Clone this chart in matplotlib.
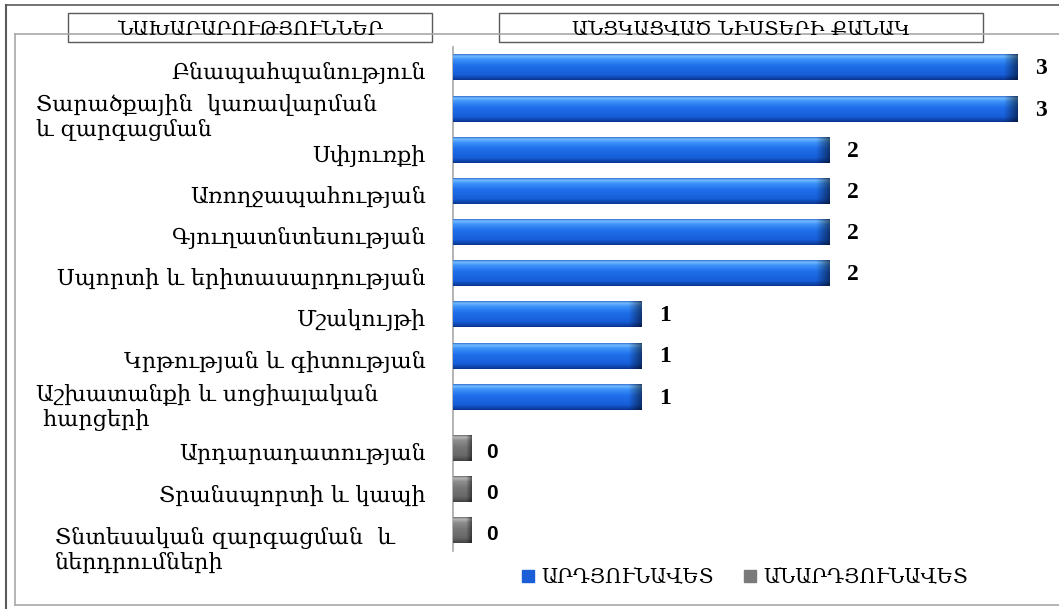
import numpy as np
import matplotlib
matplotlib.use("Agg")
import matplotlib.pyplot as plt
from matplotlib.lines import Line2D
from matplotlib.patches import Rectangle
from matplotlib.transforms import blended_transform_factory, offset_copy

# data
ministries = [
    "Բնապահպանություն",
    "Տարածքային  կառավարման\nև զարգացման",
    "Սփյուռքի",
    "Առողջապահության",
    "Գյուղատնտեսության",
    "Սպորտի և երիտասարդության",
    "Մշակույթի",
    "Կրթության և գիտության",
    "Աշխատանքի և սոցիալական\n հարցերի",
    "Արդարադատության",
    "Տրանսպորտի և կապի",
    "Տնտեսական զարգացման  և\nներդրումների",
]
effective = [3, 3, 2, 2, 2, 2, 1, 1, 1]          # ԱՐԴՅՈՒՆԱՎԵՏ
ineffective = [0, 0, 0]                          # ԱՆԱՐԴՅՈՒՆԱՎԵՏ
header_left = "ՆԱԽԱՐԱՐՈՒԹՅՈՒՆՆԵՐ"
header_right = "ԱՆՑԿԱՑՎԱԾ ՆԻՍՏԵՐԻ ՔԱՆԱԿ"
legend_labels = ["ԱՐԴՅՈՒՆԱՎԵՏ", "ԱՆԱՐԴՅՈՒՆԱՎԵՏ"]

ARM = ["DejaVu Serif", "DejaVu Sans"]
W, H = 1059, 609

def px(x):
    return x / W

def py(y):
    return 1 - y / H

fig = plt.figure(figsize=(W / 100, H / 100), dpi=100)
fig.patch.set_facecolor("white")

# rows: the two groups are separated by a small gap
gap = 0.25
ypos_eff = np.arange(len(effective))
ypos_in = len(effective) + gap + np.arange(len(ineffective))
ypos = np.concatenate([ypos_eff, ypos_in])
n = len(ministries)

top, bot = 46.9, 551.1
ax = fig.add_axes([px(453), py(bot), px(1055) - px(453), (bot - top) / H])
ax.set_facecolor("none")

bh = 0.63
stub = 0.1

blue_bars = ax.barh(ypos_eff, effective, height=bh, color="none", zorder=2)
gray_bars = ax.barh(ypos_in, np.maximum(ineffective, stub), height=bh,
                    color="none", zorder=2)

blue_stops = ([0, 0.07, 0.2, 0.45, 0.8, 1.0],
              ["#3573d4", "#74bcff", "#3d92fa", "#1f6eea", "#175ed8", "#0a3590"])
gray_stops = ([0, 0.07, 0.2, 0.45, 0.8, 1.0],
              ["#707070", "#b8b8b8", "#8e8e8e", "#777777", "#686868", "#424242"])

def hex_rgb(c):
    return np.array(matplotlib.colors.to_rgb(c))

def glossy(patch, stops, bevel):
    x0, y0 = patch.get_x(), patch.get_y()
    w, h = patch.get_width(), patch.get_height()
    nv, nh = 60, 300
    t = np.linspace(0, 1, nv)
    pos, cols = stops
    cols = np.array([hex_rgb(c) for c in cols])
    col = np.stack([np.interp(t, pos, cols[:, k]) for k in range(3)], axis=-1)
    img = np.repeat(col[:, None, :], nh, axis=1)
    xs = np.linspace(0, w, nh)
    f = np.clip((xs - (w - bevel)) / bevel, 0, 1)
    img = img * (1 - 0.5 * f)[None, :, None]
    ax.imshow(np.clip(img, 0, 1), extent=(x0, x0 + w, y0 + h, y0), aspect="auto",
              interpolation="bilinear", zorder=3)

for p in blue_bars:
    glossy(p, blue_stops, 0.07)
for p in gray_bars:
    glossy(p, gray_stops, 0.03)

ax.set_xlim(0, 3.2)
ax.set_ylim(ypos[-1] + 0.5, -0.5)
ax.set_xticks([])
ax.set_yticks([])
for s in ["top", "right", "bottom"]:
    ax.spines[s].set_visible(False)
ax.spines["left"].set_color("#a8a8a8")
ax.spines["left"].set_linewidth(1.2)

# value labels
for p, v in zip(blue_bars, effective):
    ax.annotate(str(v), (p.get_width(), p.get_y() + p.get_height() / 2),
                xytext=(13, -1), textcoords="offset points", ha="left", va="center",
                fontsize=17, fontweight="bold", family="Liberation Serif", zorder=4)
for p, v in zip(gray_bars, ineffective):
    ax.annotate(str(v), (p.get_width(), p.get_y() + p.get_height() / 2),
                xytext=(10, -3), textcoords="offset points", ha="left", va="center",
                fontsize=15, fontweight="bold", family="Liberation Sans", zorder=4)

# category labels (two-line ones are left aligned, like in the original)
trans = blended_transform_factory(fig.transFigure, ax.transData)
multi_off = {1: (36, -9), 8: (36, -11), 11: (55, -20)}
for i, lab in enumerate(ministries):
    if i in multi_off:
        xl, dy = multi_off[i]
        ax.text(px(xl), ypos[i], lab,
                transform=offset_copy(trans, fig=fig, y=dy * 0.72, units="points"),
                ha="left", va="center", fontsize=16, family=ARM, linespacing=1.18)
    else:
        ax.text(px(426), ypos[i], lab,
                transform=offset_copy(trans, fig=fig, y=-6 * 0.72, units="points"),
                ha="right", va="center", fontsize=16, family=ARM)

# frame
dark = "#5a5a5a"
light = "#a8a8a8"
fig.add_artist(Line2D([px(6), 1], [py(5), py(5)], color=dark, lw=1.2, transform=fig.transFigure))
fig.add_artist(Line2D([px(6), px(6)], [py(5), 0], color=dark, lw=1.5, transform=fig.transFigure))
fig.add_artist(Line2D([px(15), 1], [py(34), py(34)], color=light, lw=1.2, transform=fig.transFigure))
fig.add_artist(Line2D([px(15), px(15)], [py(34), py(605)], color=light, lw=1.2, transform=fig.transFigure))
fig.add_artist(Line2D([px(15), 1], [py(605), py(605)], color=light, lw=1.2, transform=fig.transFigure))

# header boxes
for (x0, x1), txt in [((68, 432), header_left), ((499, 983), header_right)]:
    fig.add_artist(Rectangle((px(x0), py(42)), px(x1) - px(x0), (42 - 13) / H,
                             facecolor="white", edgecolor=dark, lw=1.0,
                             transform=fig.transFigure))
    fig.text(px((x0 + x1) / 2), py(35), txt, ha="center", va="baseline",
             fontsize=14, family=ARM)

# legend
handles = [Line2D([], [], marker="s", ls="none", color="#1a5fd8", markersize=8),
           Line2D([], [], marker="s", ls="none", color="#7a7a7a", markersize=8)]
fig.legend(handles, legend_labels, loc="center", bbox_to_anchor=(px(743), py(578)),
           ncol=2, frameon=False, handletextpad=0.15, columnspacing=1.3,
           handlelength=1.0, prop={"family": ARM, "size": 14.5})

fig.savefig("out.png", dpi=100)
